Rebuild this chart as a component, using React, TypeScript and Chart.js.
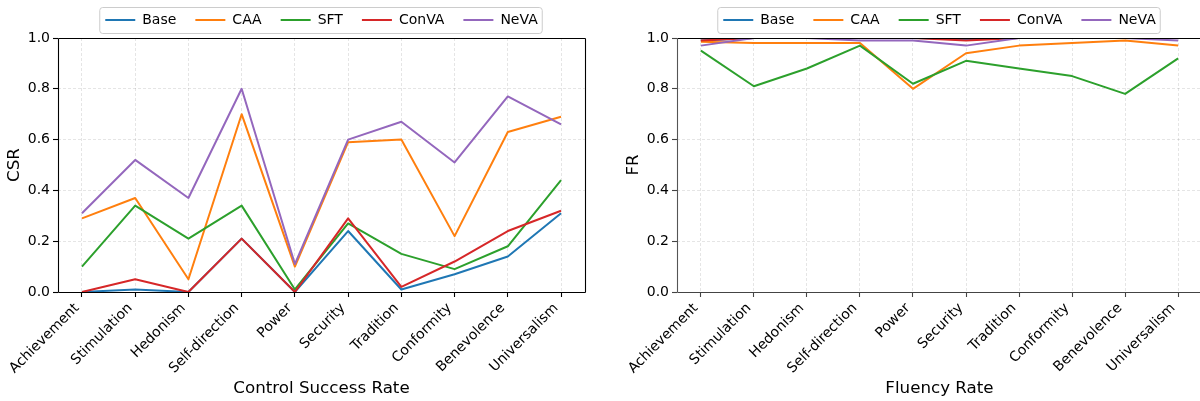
import React, { useEffect, useRef } from "react";
import { Chart, registerables } from "chart.js";

Chart.register(...registerables);

const categories = [
  "Achievement", "Stimulation", "Hedonism", "Self-direction", "Power",
  "Security", "Tradition", "Conformity", "Benevolence", "Universalism",
];
const seriesNames = ["Base", "CAA", "SFT", "ConVA", "NeVA"];
const seriesColors = ["#1f77b4", "#ff7f0e", "#2ca02c", "#d62728", "#9467bd"];

// Control Success Rate (CSR)
const csrBase = [0.0, 0.01, 0.0, 0.21, 0.0, 0.24, 0.01, 0.07, 0.14, 0.31];
const csrCAA = [0.29, 0.37, 0.05, 0.70, 0.10, 0.59, 0.60, 0.22, 0.63, 0.69];
const csrSFT = [0.10, 0.34, 0.21, 0.34, 0.01, 0.27, 0.15, 0.09, 0.18, 0.44];
const csrConVA = [0.0, 0.05, 0.0, 0.21, 0.0, 0.29, 0.02, 0.12, 0.24, 0.32];
const csrNeVA = [0.31, 0.52, 0.37, 0.80, 0.11, 0.60, 0.67, 0.51, 0.77, 0.66];

// Fluency Rate (FR)
const frBase = [0.99, 1.0, 1.0, 1.0, 1.0, 0.995, 1.0, 1.0, 1.0, 1.0];
const frCAA = [0.985, 0.98, 0.98, 0.98, 0.80, 0.94, 0.97, 0.98, 0.99, 0.97];
const frSFT = [0.95, 0.81, 0.88, 0.97, 0.82, 0.91, 0.88, 0.85, 0.78, 0.92];
const frConVA = [0.99, 1.0, 1.0, 1.0, 1.0, 0.99, 1.0, 1.0, 1.0, 1.0];
const frNeVA = [0.97, 1.0, 1.0, 0.99, 0.99, 0.97, 1.0, 1.0, 1.0, 0.99];

const yTickValues = [0, 0.2, 0.4, 0.6, 0.8, 1.0];

const FONT = "'DejaVu Sans', 'Liberation Sans', sans-serif";

type PanelSpec = {
  series: number[][];
  xTitle: string;
  yTitle: string;
  canvasWidth: number;
  plotLeft: number;
  plotRight: number;
  yTitlePad: number;
  spine: { top: string; right: string; bottom: string; left: string };
  tickColor: string;
};

const PLOT_TOP = 38;
const PLOT_BOTTOM = 292;
const HEIGHT = 401;
const LEGEND_PAD = 19;
const LAYOUT_TOP = -6;

function makeChart(canvas: HTMLCanvasElement, spec: PanelSpec) {
  const datasets = spec.series.map((vals, i) => ({
    label: seriesNames[i],
    data: vals.map((v, j) => ({ x: j, y: v })),
    borderColor: seriesColors[i],
    backgroundColor: seriesColors[i],
    borderWidth: 2,
    pointRadius: 0,
    pointHoverRadius: 0,
    tension: 0,
    fill: false,
    borderJoinStyle: "round" as const,
    order: spec.series.length - 1 - i,
  }));

  const legendHeightPlugin = {
    id: "legendHeight",
    beforeLayout(chart: any) {
      const lg = chart.legend;
      if (lg && !lg.__patched) {
        const orig = lg.fit.bind(lg);
        lg.fit = function () {
          orig();
          this.height = PLOT_TOP - LAYOUT_TOP;
        };
        lg.__patched = true;
      }
    },
  };

  const legendFramePlugin = {
    id: "legendFrame",
    beforeDraw(chart: any) {
      const lg = chart.legend;
      if (!lg || !lg.legendHitBoxes || !lg.legendHitBoxes.length) return;
      const hb = lg.legendHitBoxes;
      const left = Math.min(...hb.map((h: any) => h.left)) - 5.5;
      const right = Math.max(...hb.map((h: any) => h.left + h.width)) + 4.5;
      const cy = hb[0].top + hb[0].height / 2;
      const top = Math.round(cy - 13) + 0.5;
      const bottom = Math.round(cy + 13) + 0.5;
      const ctx = chart.ctx;
      ctx.save();
      ctx.beginPath();
      const r = 3;
      ctx.moveTo(left + r, top);
      ctx.lineTo(right - r, top);
      ctx.quadraticCurveTo(right, top, right, top + r);
      ctx.lineTo(right, bottom - r);
      ctx.quadraticCurveTo(right, bottom, right - r, bottom);
      ctx.lineTo(left + r, bottom);
      ctx.quadraticCurveTo(left, bottom, left, bottom - r);
      ctx.lineTo(left, top + r);
      ctx.quadraticCurveTo(left, top, left + r, top);
      ctx.closePath();
      ctx.fillStyle = "rgba(255,255,255,0.8)";
      ctx.fill();
      ctx.strokeStyle = "#cccccc";
      ctx.lineWidth = 1;
      ctx.stroke();
      ctx.restore();
    },
  };

  const framePlugin = {
    id: "frame",
    afterDatasetsDraw(chart: any) {
      const { ctx, chartArea: a } = chart;
      const l = Math.round(a.left) + 0.5;
      const r = Math.round(a.right) + 0.5;
      const t = Math.round(a.top) + 0.5;
      const b = Math.round(a.bottom) + 0.5;
      ctx.save();
      ctx.lineWidth = 1.1;
      const seg = (x1: number, y1: number, x2: number, y2: number, c: string) => {
        ctx.strokeStyle = c;
        ctx.beginPath();
        ctx.moveTo(x1, y1);
        ctx.lineTo(x2, y2);
        ctx.stroke();
      };
      seg(l, t, r, t, spec.spine.top);
      seg(r, t, r, b, spec.spine.right);
      seg(l, b, r, b, spec.spine.bottom);
      seg(l, t, l, b, spec.spine.left);
      ctx.restore();
    },
  };

  return new Chart(canvas, {
    type: "line",
    data: { datasets },
    plugins: [legendHeightPlugin, legendFramePlugin, framePlugin],
    options: {
      responsive: false,
      animation: false,
      events: [],
      layout: {
        padding: {
          left: 0,
          right: spec.canvasWidth - spec.plotRight,
          top: LAYOUT_TOP,
          bottom: 0,
        },
      },
      plugins: {
        tooltip: { enabled: false },
        legend: {
          display: true,
          position: "top",
          align: "center",
          fullSize: false,
          labels: {
            usePointStyle: true,
            pointStyle: "line",
            pointStyleWidth: 30,
            padding: LEGEND_PAD,
            color: "#000",
            font: { family: FONT, size: 14 },
            sort: (a: any, b: any) => a.datasetIndex - b.datasetIndex,
          },
        },
      },
      scales: {
        x: {
          type: "linear",
          min: -0.45,
          max: categories.length - 1 + 0.45,
          afterBuildTicks: (axis: any) => {
            axis.ticks = categories.map((_, i) => ({ value: i }));
          },
          afterFit: (axis: any) => {
            axis.height = HEIGHT - PLOT_BOTTOM;
          },
          grid: {
            display: true,
            color: "rgba(0,0,0,0.13)",
            lineWidth: 0.8,
            drawTicks: true,
            tickLength: 5,
            tickColor: spec.tickColor,
            tickWidth: 1.1,
          },
          border: { display: false, dash: [3, 2] },
          ticks: {
            autoSkip: false,
            maxRotation: 45,
            minRotation: 45,
            padding: 3,
            labelOffset: -5,
            color: "#000",
            font: { family: FONT, size: 14 },
            callback: (v: any) => categories[Math.round(Number(v))] ?? "",
          },
          title: {
            display: true,
            text: spec.xTitle,
            color: "#000",
            font: { family: FONT, size: 16.7 },
            padding: { top: 0, bottom: 2 },
          },
        },
        y: {
          type: "linear",
          min: 0,
          max: 1,
          afterBuildTicks: (axis: any) => {
            axis.ticks = yTickValues.map((v) => ({ value: v }));
          },
          afterFit: (axis: any) => {
            axis.width = spec.plotLeft;
          },
          grid: {
            display: true,
            color: "rgba(0,0,0,0.13)",
            lineWidth: 0.8,
            drawTicks: true,
            tickLength: 5,
            tickColor: spec.tickColor,
            tickWidth: 1.1,
          },
          border: { display: false, dash: [3, 2] },
          ticks: {
            padding: 3,
            color: "#000",
            font: { family: FONT, size: 14 },
            callback: (v: any) => Number(v).toFixed(1),
          },
          title: {
            display: true,
            text: spec.yTitle,
            color: "#000",
            font: { family: FONT, size: 16.7 },
            padding: { top: spec.yTitlePad, bottom: 0 },
          },
        },
      },
    } as any,
  });
}

function Panel({ spec, left }: { spec: PanelSpec; left: number }) {
  const ref = useRef<HTMLCanvasElement | null>(null);
  useEffect(() => {
    if (!ref.current) return;
    const chart = makeChart(ref.current, spec);
    return () => chart.destroy();
  }, [spec]);
  return (
    <div style={{ position: "absolute", left, top: 0, width: spec.canvasWidth, height: HEIGHT }}>
      <canvas
        ref={ref}
        width={spec.canvasWidth}
        height={HEIGHT}
        style={{ width: spec.canvasWidth, height: HEIGHT, display: "block" }}
      />
    </div>
  );
}

const leftSpec: PanelSpec = {
  series: [csrBase, csrCAA, csrSFT, csrConVA, csrNeVA],
  xTitle: "Control Success Rate",
  yTitle: "CSR",
  canvasWidth: 600,
  plotLeft: 58,
  plotRight: 585,
  yTitlePad: 5,
  spine: { top: "#000", right: "#000", bottom: "#000", left: "#000" },
  tickColor: "#000",
};

const rightSpec: PanelSpec = {
  series: [frBase, frCAA, frSFT, frConVA, frNeVA],
  xTitle: "Fluency Rate",
  yTitle: "FR",
  canvasWidth: 620,
  plotLeft: 77,
  plotRight: 602,
  yTitlePad: 24,
  spine: { top: "#000", right: "#000", bottom: "#444", left: "#555" },
  tickColor: "#444",
};

export default function App() {
  return (
    <div
      style={{
        position: "absolute",
        left: 0,
        top: 0,
        width: 1200,
        height: HEIGHT,
        overflow: "hidden",
        background: "#fff",
      }}
    >
      <Panel spec={leftSpec} left={0} />
      <Panel spec={rightSpec} left={600} />
    </div>
  );
}
